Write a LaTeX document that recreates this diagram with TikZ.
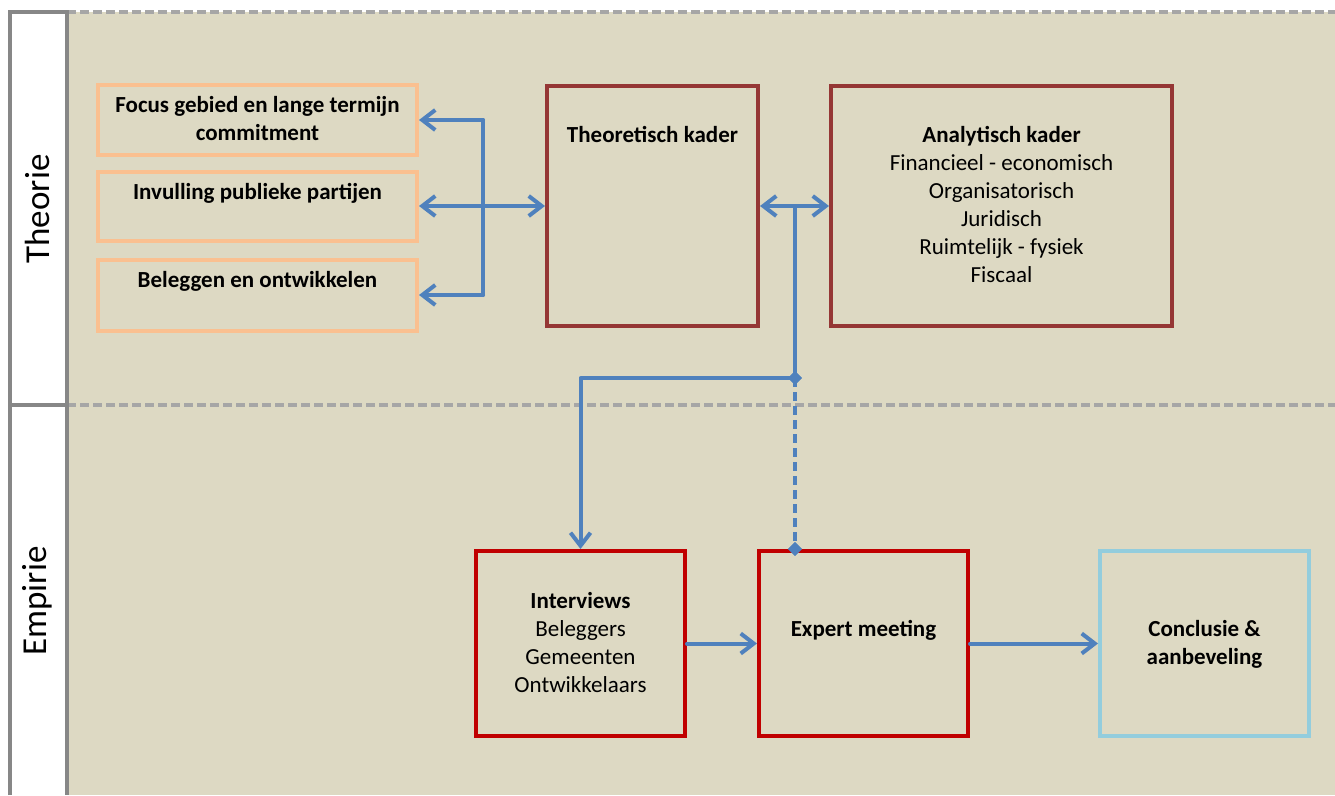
\documentclass[tikz,border=0pt]{standalone}
\usepackage{fontspec}
\setmainfont{Carlito}
\usetikzlibrary{arrows.meta,shapes.geometric}
\definecolor{tanbg}{HTML}{DDD9C3}
\definecolor{lanegray}{HTML}{878787}
\definecolor{dashgray}{HTML}{A6A6A6}
\definecolor{boxorange}{HTML}{FAC090}
\definecolor{boxdarkred}{HTML}{953735}
\definecolor{boxred}{HTML}{C00000}
\definecolor{boxblue}{HTML}{93CDDD}
\definecolor{arrblue}{HTML}{4F81BD}
\begin{document}
\begin{tikzpicture}[x=1pt,y=-1pt,
  conn/.style={draw=arrblue,line width=4pt,line cap=round,line join=round},
  arr/.style={-{Straight Barb[length=13pt,width=20pt]}},
  darr/.style={{Straight Barb[length=13pt,width=20pt]}-{Straight Barb[length=13pt,width=20pt]}},
  dashconn/.style={draw=arrblue,line width=4pt,dash pattern=on 9pt off 5pt},
  dmd/.style={diamond,fill=arrblue,minimum width=14pt,minimum height=14pt,inner sep=0},
  obox/.style={draw=boxorange,line width=4pt,minimum width=319pt,inner sep=0},
  kbox/.style={draw=boxdarkred,line width=4pt,minimum height=240pt,inner sep=0},
  rbox/.style={draw=boxred,line width=4pt,minimum width=209pt,minimum height=185pt,inner sep=0},
  bbox/.style={draw=boxblue,line width=4pt,minimum width=209pt,minimum height=185pt,inner sep=0},
  txt/.style={font=\fontsize{23}{28}\selectfont,align=center,anchor=base,inner sep=0},
  txtb/.style={font=\fontsize{23}{28}\selectfont\bfseries,align=center,anchor=base,inner sep=0},
  lane/.style={font=\fontsize{35}{40}\selectfont,rotate=90,inner sep=0},
  laneline/.style={draw=lanegray,line width=3.5pt},
  lanedash/.style={draw=dashgray,line width=3.5pt,dash pattern=on 9pt off 4pt}
]
\useasboundingbox (0,0) rectangle (1335,795);
% background
\fill[tanbg] (67,12) rectangle (1335,795);
\fill[white] (10,12) rectangle (67,795);
\draw[lanedash] (67,12) -- (1335,12);
\draw[lanedash] (67,405) -- (1335,405);
\draw[laneline] (10,795) -- (10,12) -- (67,12) -- (67,795);
\draw[laneline] (10,405) -- (67,405);
\node[lane] (lt) at (37,209) {Theorie};
\node[lane] (le) at (37,601) {Empirie};

% orange boxes
\node[obox,minimum height=70pt] (f1) at (257.5,120) {};
\node[obox,minimum height=69pt] (f2) at (257.5,206) {};
\node[obox,minimum height=71pt] (f3) at (257.5,295) {};
\node[txtb] (f1t) at (257.5,140) {Focus gebied en lange termijn\\commitment};
\node[txtb] (f2t) at (257.5,199) {Invulling publieke partijen};
\node[txtb] (f3t) at (257.5,287) {Beleggen en ontwikkelen};

% kader boxes
\node[kbox,minimum width=211pt] (tk) at (652.5,206) {};
\node[kbox,minimum width=341pt] (ak) at (1001.5,206) {};
\node[txtb] (tkt) at (652.5,142) {Theoretisch kader};
\node[txtb] (akt) at (1001.5,142) {Analytisch kader};
\node[txt] (akl) at (1001.5,282) {Financieel - economisch\\Organisatorisch\\Juridisch\\Ruimtelijk - fysiek\\Fiscaal};

% empirie boxes
\node[rbox] (iv) at (580.5,643.5) {};
\node[rbox] (em) at (863.5,643.5) {};
\node[bbox] (cc) at (1204.5,643.5) {};
\node[txtb] (ivt) at (580.5,608) {Interviews};
\node[txt] (ivl) at (580.5,692) {Beleggers\\Gemeenten\\Ontwikkelaars};
\node[txtb] (emt) at (863.5,636) {Expert meeting};
\node[txtb] (cct) at (1204.5,664) {Conclusie \&\\aanbeveling};

% connectors theory
\coordinate (busT) at (483,120);
\coordinate (busB) at (483,295);
\draw[conn,arr] (busT) -- (f1.east);
\draw[conn] (busT) -- (busB);
\draw[conn,arr] (busB) -- (f3.east);
\draw[conn,darr] (f2.east) -- (tk.west);
\draw[conn,darr] (tk.east) -- (ak.west);
\coordinate (jt) at (795,206);
\node[dmd] (d1) at (795,378) {};
\node[dmd] (d2) at (d1 |- em.north) {};
\draw[conn] (jt) -- (d1.center);
\draw[conn,arr] (d1.center) -| (iv.north);
\draw[dashconn] (d1.center) -- (d2.center);
\node[dmd] at (d1) {};
\node[dmd] at (d2) {};

% connectors empirie
\draw[conn,arr] (iv.east) -- (em.west);
\draw[conn,arr] (em.east) -- (cc.west);
\end{tikzpicture}
\end{document}
